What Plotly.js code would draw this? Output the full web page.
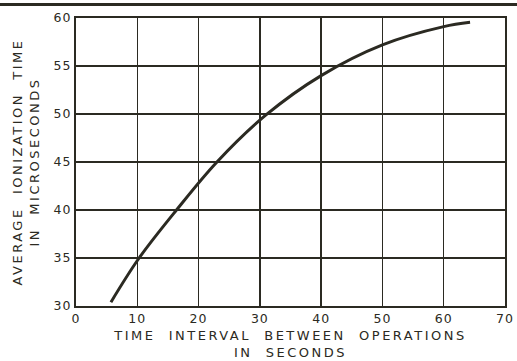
<!DOCTYPE html>
<html>
<head>
<meta charset="utf-8">
<script src="https://cdn.plot.ly/plotly-3.0.1.min.js"></script>
<style>
  html, body { margin: 0; padding: 0; background: #fff; }
  #chart { width: 517px; height: 361px; }
  .xtitle, .ytitle { letter-spacing: 2.5px; }
  .xtick text, .ytick text { letter-spacing: 1px; }
</style>
</head>
<body>
<div id="chart"></div>
<script>
// Interval between operations (s) and average ionization time (µs)
const intervalSec = [5.7, 10.3, 16.4, 23, 31, 40, 50, 60, 64.3];
const ionizationUs = [30.4, 35, 40, 45, 49.9, 54.0, 57.2, 59.1, 59.55];

const xTicks = [0, 10, 20, 30, 40, 50, 60, 70];
const yTicks = [30, 35, 40, 45, 50, 55, 60];

const ink = '#2b2a22';
const tickFont = { family: 'DejaVu Sans, sans-serif', size: 12.5, color: ink };
const titleFont = { family: 'DejaVu Sans, sans-serif', size: 13, color: ink };

const trace = {
  x: intervalSec,
  y: ionizationUs,
  type: 'scatter',
  mode: 'lines',
  line: { color: ink, width: 3, shape: 'spline', smoothing: 1 },
  hoverinfo: 'skip'
};

const axisCommon = {
  showline: true, mirror: true, linecolor: ink, linewidth: 2,
  showgrid: true, gridcolor: ink, gridwidth: 1.3,
  zeroline: false, ticks: '', tickfont: tickFont, fixedrange: true
};

const layout = {
  width: 517, height: 361,
  margin: { l: 76, r: 12, t: 18, b: 55 },
  paper_bgcolor: '#fff', plot_bgcolor: '#fff',
  showlegend: false,
  font: tickFont,
  xaxis: Object.assign({}, axisCommon, {
    range: [0, 70], tickvals: xTicks, ticktext: xTicks.map(String),
    title: { text: 'TIME  INTERVAL  BETWEEN  OPERATIONS<br>IN  SECONDS', font: titleFont, standoff: 6 }
  }),
  yaxis: Object.assign({}, axisCommon, {
    range: [30, 60], tickvals: yTicks, ticktext: yTicks.map(String),
    title: { text: 'AVERAGE  IONIZATION  TIME<br>IN  MICROSECONDS', font: titleFont, standoff: 11 }
  }),
  shapes: [{
    type: 'line', xref: 'paper', yref: 'paper',
    x0: -0.18, x1: 1.03, y0: 1.047, y1: 1.047,
    line: { color: ink, width: 3 }
  }]
};

Plotly.newPlot('chart', [trace], layout, { displayModeBar: false, staticPlot: true });
</script>
</body>
</html>
